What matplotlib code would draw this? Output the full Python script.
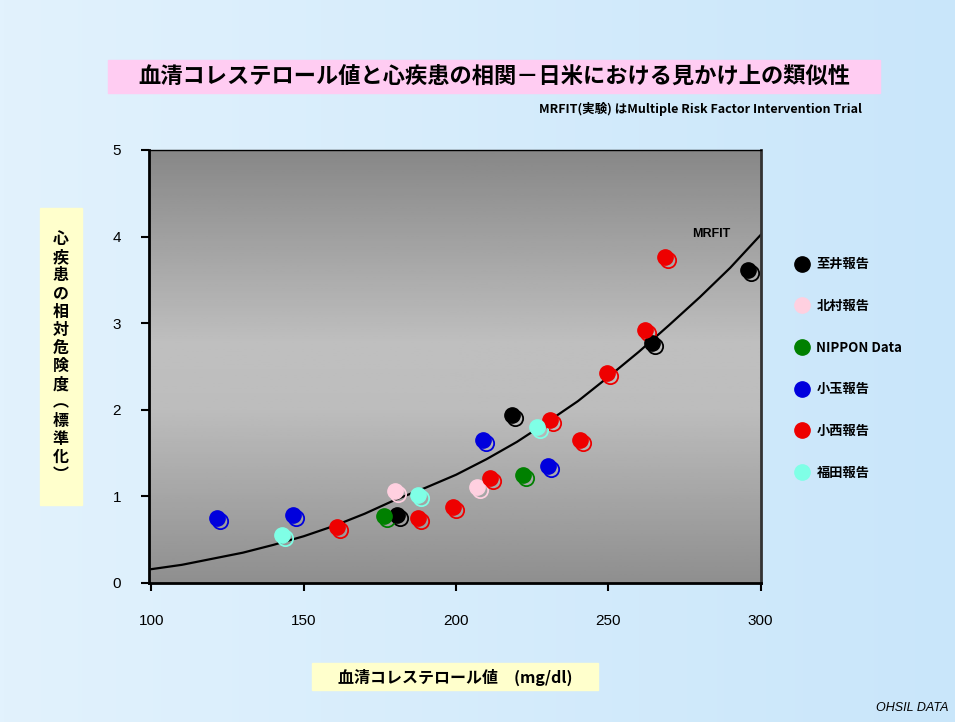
import numpy as np
import matplotlib
matplotlib.use("Agg")
import matplotlib.pyplot as plt
import matplotlib.transforms as mtransforms
from matplotlib.lines import Line2D
from matplotlib.patches import Rectangle

plt.rcParams['font.family'] = ['Noto Sans CJK JP', 'DejaVu Sans']

# 各報告のデータ（血清コレステロール値, 相対危険度）
series_names = ['至井報告', '北村報告', 'NIPPON Data', '小玉報告', '小西報告', '福田報告']
series_colors = ['#000000', '#FFD0E0', '#008000', '#0000DD', '#EE0000', '#7FFFE6']

sakai_x = [180.6, 218.4, 264.3, 295.8]
sakai_y = [0.79, 1.94, 2.77, 3.61]
kitamura_x = [180.0, 206.9]
kitamura_y = [1.06, 1.11]
nippon_x = [176.3, 222.0]
nippon_y = [0.77, 1.25]
kodama_x = [121.5, 146.5, 208.8, 230.2]
kodama_y = [0.75, 0.79, 1.65, 1.35]
konishi_x = [160.9, 187.5, 199.0, 211.1, 230.8, 240.7, 249.6, 262.1, 268.6]
konishi_y = [0.65, 0.75, 0.88, 1.21, 1.88, 1.65, 2.42, 2.92, 3.76]
fukuda_x = [142.8, 187.5, 226.6]
fukuda_y = [0.55, 1.02, 1.80]

series_x = [sakai_x, kitamura_x, nippon_x, kodama_x, konishi_x, fukuda_x]
series_y = [sakai_y, kitamura_y, nippon_y, kodama_y, konishi_y, fukuda_y]

# MRFIT曲線
mrfit_x = [100, 110, 120, 130, 140, 150, 160, 170, 180, 190, 200,
           210, 220, 230, 240, 250, 260, 270, 280, 290, 300]
mrfit_y = [0.16, 0.21, 0.28, 0.35, 0.44, 0.54, 0.66, 0.80, 0.96, 1.10, 1.25,
           1.43, 1.63, 1.86, 2.10, 2.38, 2.67, 2.98, 3.30, 3.64, 4.02]

x_ticks = [100, 150, 200, 250, 300]
y_ticks = [0, 1, 2, 3, 4, 5]

fig = plt.figure(figsize=(9.55, 7.22), dpi=100)

# 背景（水色のグラデーション）
bg = fig.add_axes([0, 0, 1, 1], zorder=-10)
grad = np.linspace(0, 1, 256).reshape(1, -1)
bg_cmap = matplotlib.colors.LinearSegmentedColormap.from_list('bg', ['#E2F2FD', '#C9E6FA'])
bg.imshow(grad, aspect='auto', cmap=bg_cmap, extent=[0, 1, 0, 1])
bg.set_xlim(0, 1)
bg.set_ylim(0, 1)
bg.axis('off')

ax = fig.add_axes([149 / 955, 1 - 583 / 722, (761 - 149) / 955, (583 - 150) / 722])
xmin, xmax = 99.2, 300.1
ax.set_xlim(xmin, xmax)
ax.set_ylim(0, 5)

# プロット領域の灰色グラデーション
rows = np.linspace(0, 1, 200)
shade = np.interp(rows, [0, 0.4, 0.55, 1.0], [0.56, 0.74, 0.75, 0.53])
ax.imshow(shade.reshape(-1, 1), extent=[xmin, xmax, 0, 5], aspect='auto',
          cmap='gray', vmin=0, vmax=1, origin='lower', zorder=0)

ax.plot(mrfit_x, mrfit_y, color='black', lw=1.6, zorder=2)
ax.text(283.7, 4.03, 'MRFIT', fontsize=9, fontweight='bold', ha='center', va='center',
        family=['Liberation Sans', 'DejaVu Sans'], zorder=3)

ring_tr = mtransforms.offset_copy(ax.transData, fig=fig, x=3, y=-3, units='dots')
for xs, ys, c in zip(series_x, series_y, series_colors):
    ax.plot(xs, ys, 'o', ms=11, mfc='none', mec=c, mew=1.3, transform=ring_tr, zorder=4)
    ax.plot(xs, ys, 'o', ms=11, color=c, mec=c, zorder=5)

ax.set_xticks(x_ticks)
ax.set_yticks(y_ticks)
ax.tick_params(direction='out', length=6, width=1.5, labelsize=11, pad=14)
for lab in ax.get_xticklabels() + ax.get_yticklabels():
    lab.set_family(['Liberation Sans', 'DejaVu Sans'])
ax.tick_params(axis='x', pad=16)
for side in ['left', 'bottom']:
    ax.spines[side].set_linewidth(2)
ax.spines['right'].set_linewidth(2)
ax.spines['right'].set_color('#333333')
ax.spines['top'].set_linewidth(1)

# 凡例
handles = [Line2D([], [], marker='o', ls='none', ms=11, color=c) for c in series_colors]
leg = fig.legend(handles, series_names, loc='upper left', bbox_to_anchor=(790 / 955, 1 - 252 / 722),
                 frameon=False, fontsize=9.5, labelspacing=2.1, handletextpad=0.6,
                 handlelength=1.0, borderaxespad=0)
for t in leg.get_texts():
    t.set_fontweight('bold')

# タイトル
fig.patches.append(Rectangle((108 / 955, 1 - 93 / 722), (880 - 108) / 955, 33 / 722,
                             transform=fig.transFigure, color='#FFCCF2', zorder=1))
fig.text(494 / 955, 1 - 76 / 722, '血清コレステロール値と心疾患の相関－日米における見かけ上の類似性',
         ha='center', va='center', fontsize=16, fontweight='bold', zorder=2)
fig.text(862 / 955, 1 - 109 / 722, 'MRFIT(実験) はMultiple Risk Factor Intervention Trial',
         ha='right', va='center', fontsize=9, fontweight='bold')

# 縦軸ラベル
fig.patches.append(Rectangle((40 / 955, 1 - 505 / 722), 42 / 955, 297 / 722,
                             transform=fig.transFigure, color='#FFFFCC', zorder=1))
ylabel_chars = list('心疾患の相対危険度') + ['︵'] + list('標準化') + ['︶']
fig.text(61 / 955, 1 - 357 / 722, '\n'.join(ylabel_chars), ha='center', va='center',
         fontsize=11.5, fontweight='bold', linespacing=1.17, zorder=2)

# 横軸ラベル
fig.patches.append(Rectangle((312 / 955, 1 - 690 / 722), (598 - 312) / 955, 27 / 722,
                             transform=fig.transFigure, color='#FFFFCC', zorder=1))
fig.text(455 / 955, 1 - 677 / 722, '血清コレステロール値　(mg/dl)', ha='center', va='center',
         fontsize=11.5, fontweight='bold', zorder=2)

fig.text(948 / 955, 1 - 708 / 722, 'OHSIL DATA', ha='right', va='center', fontsize=9,
         style='italic', family=['Liberation Sans', 'DejaVu Sans'])

fig.savefig('out.png', dpi=100)
